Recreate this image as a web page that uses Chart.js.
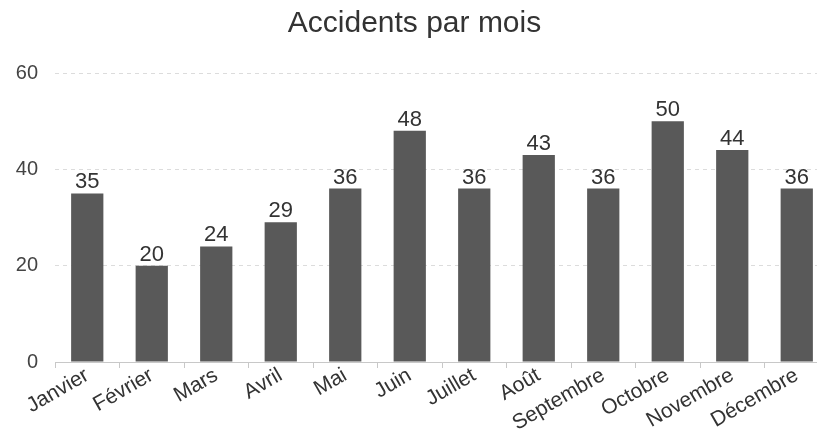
<!DOCTYPE html>
<html>
<head>
<meta charset="utf-8">
<script src="https://cdn.jsdelivr.net/npm/chart.js@4/dist/chart.umd.min.js"></script>
<style>
html,body{margin:0;padding:0;background:#fff;overflow:hidden;width:817px;height:436px;}
canvas{display:block;}
</style>
</head>
<body>
<canvas id="c" width="836" height="436"></canvas>
<script>
const categories = ["Janvier","Février","Mars","Avril","Mai","Juin","Juillet","Août","Septembre","Octobre","Novembre","Décembre"];
const accidents = [35,20,24,29,36,48,36,43,36,50,44,36];
const yTicks = [0,20,40,60];
const titleText = "Accidents par mois";

const FONT = '"Liberation Sans", Arial, sans-serif';

const valueLabels = {
  id: 'valueLabels',
  afterDatasetsDraw(chart) {
    const ctx = chart.ctx;
    const meta = chart.getDatasetMeta(0);
    ctx.save();
    ctx.font = '22px ' + FONT;
    ctx.fillStyle = '#333';
    ctx.textAlign = 'center';
    ctx.textBaseline = 'bottom';
    meta.data.forEach((bar, i) => {
      ctx.fillText(String(chart.data.datasets[0].data[i]), bar.x, bar.y);
    });
    ctx.restore();
  }
};

new Chart(document.getElementById('c'), {
  type: 'bar',
  data: {
    labels: categories,
    datasets: [{
      data: accidents,
      backgroundColor: '#595959',
      borderWidth: 0,
      categoryPercentage: 1,
      barPercentage: 0.5
    }]
  },
  options: {
    responsive: false,
    devicePixelRatio: 1,
    animation: false,
    layout: { padding: { top: 0, right: 7, bottom: 0, left: 0 } },
    plugins: {
      legend: { display: false },
      tooltip: { enabled: false },
      title: {
        display: true,
        text: titleText,
        color: '#333',
        font: { family: FONT, size: 30, weight: 'normal' },
        padding: { top: 6, bottom: 31 }
      }
    },
    scales: {
      x: {
        afterFit(axis) { axis.paddingLeft = 0; axis.paddingRight = 0; axis.height = 74; },
        grid: { display: true, drawOnChartArea: false, drawTicks: true, tickLength: 6, color: '#c8c8c8', offset: true },
        border: { display: true, color: '#c8c8c8' },
        ticks: {
          color: '#333',
          font: { family: FONT, size: 21 },
          minRotation: 30, maxRotation: 30, padding: -5, autoSkip: false
        }
      },
      y: {
        min: 0, max: 60,
        afterBuildTicks(axis) { axis.ticks = yTicks.map(v => ({ value: v })); },
        afterFit(axis) { axis.width = 55; },
        grid: { color: '#dcdcdc', drawTicks: false },
        border: { display: false, dash: [4, 4] },
        ticks: {
          color: '#444',
          font: { family: FONT, size: 20 },
          padding: 17
        }
      }
    }
  },
  plugins: [valueLabels]
});
</script>
</body>
</html>
